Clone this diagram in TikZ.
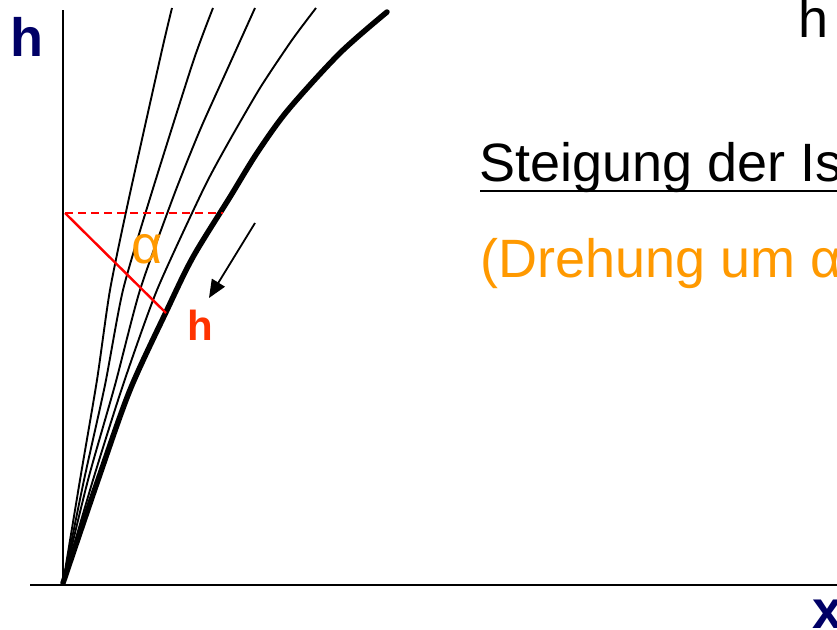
\documentclass[tikz,border=0pt]{standalone}
\usepackage{fontspec}
\setmainfont{Liberation Sans}
\usetikzlibrary{arrows.meta}
\definecolor{navy}{RGB}{0,0,102}
\definecolor{hred}{RGB}{255,51,0}
\definecolor{lred}{RGB}{255,0,0}
\definecolor{orng}{RGB}{255,153,0}
\begin{document}
\begin{tikzpicture}[x=1bp,y=-1bp,
  txt/.style={inner sep=0pt, anchor=base west},
  big/.style={font=\fontsize{54bp}{60bp}\selectfont},
  bigb/.style={font=\bfseries\fontsize{54bp}{60bp}\selectfont},
  isoline/.style={line width=1.9bp, line join=round},
  maincurve/.style={line width=5.5bp, line join=round, line cap=round},
  axisline/.style={line width=2.5bp},
  redline/.style={lred, line width=2.4bp},
  reddash/.style={lred, line width=1.6bp, dash pattern=on 8bp off 5bp}]
\useasboundingbox (0,0) rectangle (837,630);
\clip (0,0) rectangle (837,630);

% axes
\coordinate (O) at (63,585);
\coordinate (ytop) at (63,10);
\coordinate (xleft) at (30,585);
\coordinate (xright) at (840,585);
\draw[axisline] (O) -- (ytop);
\draw[axisline] (xleft) -- (xright);

% thin lines
\draw[isoline] plot[smooth, tension=0.4] coordinates {(63,583) (80,480) (97,380) (110,290) (129,198) (162,50) (172,8)};
\draw[isoline] plot[smooth, tension=0.4] coordinates {(63,583) (84,480) (105,385) (123,290) (151,195) (193,62) (213,8)};
\draw[isoline] plot[smooth, tension=0.4] coordinates {(63,583) (88,480) (115,385) (140,290) (174,195) (200,130) (227,70) (255,8)};
\draw[isoline] plot[smooth, tension=0.4] coordinates {(63,583) (93,480) (123,385) (157,290) (203,190) (227,145) (260,88) (292,40) (316,8)};
% thick line
\draw[maincurve] plot[smooth, tension=0.5] coordinates {(63,583) (98,480) (130,390) (167,310) (193,257) (230,197) (257,153) (288,110) (340,53) (387,12)};

% red construction
\coordinate (rA) at (65,213);
\coordinate (rB) at (223,213);
\coordinate (rC) at (166,313);
\draw[reddash] (rA) -- (rB);
\draw[redline] (rA) -- (rC);

% arrow
\coordinate (aS) at (255,223);
\coordinate (aE) at (209,298);
\draw[line width=1.8bp, -{Triangle[length=18bp,width=15bp]}] (aS) -- (aE);

% labels
\node[txt, bigb, text=navy] (hlab) at (10,57) {h};
\node[txt, bigb, text=navy] (xlab) at (812,628) {x};
\node[txt, big] (htop) at (798,38) {h};
\node[txt, font=\bfseries\fontsize{42bp}{48bp}\selectfont, text=hred] (hred) at (187,340) {h};
\node[txt, big, text=orng] (alpha) at (131,263) {α};
\node[txt, big] (steig) at (479,182) {Steigung der Isolinien};
\draw[line width=2.2bp] (480,191) -- (840,191);
\node[txt, big, text=orng] (dreh) at (480,277) {(Drehung um α)};
\end{tikzpicture}
\end{document}
